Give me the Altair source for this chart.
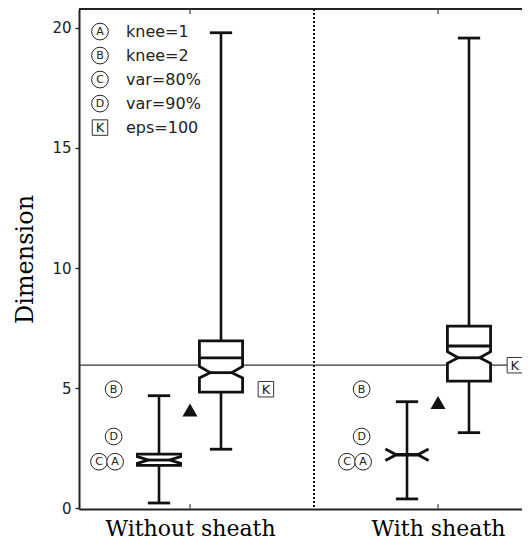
import altair as alt
import pandas as pd

# ---------------- data ----------------
groups = ["Without sheath", "With sheath"]
group_pos = [1, 2]

# left (narrow) box of each group
small_wlo = [0.21, 0.38]
small_whi = [4.68, 4.43]
small_q1 = [1.78, 2.22]
small_q3 = [2.25, 2.22]
small_med = [2.0, 2.22]
small_nlo = [1.86, 1.98]
small_nhi = [2.14, 2.46]

# right (tall) box of each group
big_wlo = [2.45, 3.14]
big_whi = [19.8, 19.58]
big_q1 = [4.83, 5.29]
big_q3 = [6.96, 7.58]
big_inner = [6.26, 6.75]
big_med = [5.64, 6.26]
big_nlo = [5.42, 6.03]
big_nhi = [5.9, 6.51]

triangle_y = [4.08, 4.40]
reference_y = 5.95

marker_letters = ["B", "D", "C", "A"]
marker_y = [4.95, 2.98, 1.93, 1.93]
marker_dx = [-0.308, -0.308, -0.367, -0.302]
k_x = [1.306, 2.31]
k_y = [4.95, 5.95]

legend_letters = ["A", "B", "C", "D"]
legend_labels = ["knee=1", "knee=2", "var=80%", "var=90%"]
legend_y = [19.85, 18.85, 17.85, 16.85]
legend_k_label = "eps=100"
legend_k_y = 15.85

# ---------------- geometry helpers ----------------
W, H = 443, 500
box_dx = 0.125
hw = 0.087
cap = 0.045
xs = alt.Scale(domain=[0.5524, 2.3387], nice=False, zero=False)
ys = alt.Scale(domain=[-0.04, 20.79], nice=False, zero=False)
INK = "#111111"

label_expr = " : ".join(
    f"datum.value == {p} ? '{g}'" for p, g in zip(group_pos, groups)
) + " : ''"

x_axis = alt.Axis(values=group_pos, labelExpr=label_expr, ticks=False, grid=False,
                  title=None, domainWidth=2, domainColor="#222222",
                  labelFont="DejaVu Serif", labelFontSize=22, labelColor="black",
                  labelPadding=9, labelBaseline="top")
y_axis = alt.Axis(values=[0, 5, 10, 15, 20], grid=False, title="Dimension",
                  tickSize=4, tickWidth=1.3, tickColor="#222222",
                  domainWidth=2, domainColor="#222222",
                  labelFont="DejaVu Sans", labelFontSize=15, labelColor="#222222",
                  labelPadding=4, titleFont="DejaVu Serif", titleFontSize=24,
                  titleFontWeight="normal", titleColor="black", titlePadding=14)


def X(f="x"):
    return alt.X(f"{f}:Q", scale=xs, axis=x_axis)


def Y(f="y"):
    return alt.Y(f"{f}:Q", scale=ys, axis=y_axis)


boxes = []
for i, c in enumerate(group_pos):
    boxes.append(dict(cx=c - box_dx, wlo=small_wlo[i], whi=small_whi[i], q1=small_q1[i],
                      q3=small_q3[i], med=small_med[i], nlo=small_nlo[i], nhi=small_nhi[i],
                      inner=None))
    boxes.append(dict(cx=c + box_dx, wlo=big_wlo[i], whi=big_whi[i], q1=big_q1[i],
                      q3=big_q3[i], med=big_med[i], nlo=big_nlo[i], nhi=big_nhi[i],
                      inner=big_inner[i]))

whisk, caps, rects, paths = [], [], [], []
pid = 0
for b in boxes:
    cx = b["cx"]
    whisk.append(dict(x=cx, y=b["wlo"], y2=b["whi"]))
    for v in (b["wlo"], b["whi"]):
        caps.append(dict(x=cx - cap, x2=cx + cap, y=v))
    if b["q3"] > b["q1"]:
        rects.append(dict(x=cx - hw, x2=cx + hw, y=b["q1"], y2=b["q3"]))
        pts = [(-hw, b["q1"]), (hw, b["q1"]), (hw, b["nlo"]), (hw / 2, b["med"]),
               (hw, b["nhi"]), (hw, b["q3"]), (-hw, b["q3"]), (-hw, b["nhi"]),
               (-hw / 2, b["med"]), (-hw, b["nlo"]), (-hw, b["q1"]), (hw, b["q1"])]
        plist = [pts]
    else:
        plist = [[(-hw, b["nhi"]), (-hw / 2, b["med"]), (hw / 2, b["med"]), (hw, b["nhi"])],
                 [(-hw, b["nlo"]), (-hw / 2, b["med"]), (hw / 2, b["med"]), (hw, b["nlo"])]]
    plist.append([(-hw / 2, b["med"]), (hw / 2, b["med"])])
    if b["inner"] is not None:
        plist.append([(-hw, b["inner"]), (hw, b["inner"])])
    for p in plist:
        for k, (dx, yv) in enumerate(p):
            paths.append(dict(pid=pid, o=k, x=cx + dx, y=yv))
        pid += 1

markers = []
for c in group_pos:
    for L, yv, dx in zip(marker_letters, marker_y, marker_dx):
        markers.append(dict(x=c + dx, y=yv, t=L))
k_df = pd.DataFrame(dict(x=k_x, y=k_y, t=["K"] * len(k_x)))
tri_df = pd.DataFrame(dict(x=group_pos, y=triangle_y))

leg_x_sym = 0.637
leg_x_txt = 0.742
leg_c = pd.DataFrame(dict(x=[leg_x_sym] * 4, y=legend_y, t=legend_letters))
leg_t = pd.DataFrame(dict(x=[leg_x_txt] * 5, y=legend_y + [legend_k_y],
                          t=legend_labels + [legend_k_label]))
leg_k = pd.DataFrame(dict(x=[leg_x_sym], y=[legend_k_y], t=["K"]))

# ---------------- layers ----------------
frame_df = pd.DataFrame(dict(y=[reference_y]))

href = alt.Chart(frame_df).mark_rule(color="#333333", strokeWidth=1.3).encode(
    y=Y(), x=alt.value(0), x2=alt.value(W))
vline = alt.Chart(frame_df).mark_rule(color=INK, strokeWidth=2, strokeDash=[2, 2]).encode(
    x=alt.datum(1.5, scale=xs, axis=x_axis), y=alt.value(0), y2=alt.value(H))
top = alt.Chart(frame_df).mark_rule(color="#222222", strokeWidth=2).encode(
    y=alt.value(0), x=alt.value(0), x2=alt.value(W))
tick_df = pd.DataFrame(dict(x=group_pos))
top_ticks = alt.Chart(tick_df).mark_rule(color="#444444", strokeWidth=1.2).encode(
    x=X(), y=alt.value(0), y2=alt.value(5))
bot_ticks = alt.Chart(tick_df).mark_rule(color="#444444", strokeWidth=1.2).encode(
    x=X(), y=alt.value(H), y2=alt.value(H - 5))

whisk_l = alt.Chart(pd.DataFrame(whisk)).mark_rule(color=INK, strokeWidth=2.6).encode(
    x=X(), y=Y(), y2="y2:Q")
caps_l = alt.Chart(pd.DataFrame(caps)).mark_rule(color=INK, strokeWidth=2.8).encode(
    x=X(), x2="x2:Q", y=Y())
rect_l = alt.Chart(pd.DataFrame(rects)).mark_rect(color="white").encode(
    x=X(), x2="x2:Q", y=Y(), y2="y2:Q")
path_l = alt.Chart(pd.DataFrame(paths)).mark_line(color=INK, strokeWidth=2.8,
                                                 strokeJoin="miter").encode(
    x=X(), y=Y(), detail="pid:N", order="o:Q")
tri_l = alt.Chart(tri_df).mark_point(shape="triangle-up", filled=True, color=INK,
                                     size=225, opacity=1).encode(x=X(), y=Y())

mk_df = pd.DataFrame(markers)
circ_l = alt.Chart(mk_df).mark_point(shape="circle", filled=True, fill="white",
                                     stroke="#222222", strokeWidth=1, size=280,
                                     opacity=1).encode(x=X(), y=Y())
circ_t = alt.Chart(mk_df).mark_text(font="DejaVu Sans", fontSize=11, color="#222222",
                                    baseline="middle", dy=0.5).encode(
    x=X(), y=Y(), text="t:N")
ksq_l = alt.Chart(k_df).mark_square(filled=True, fill="white", stroke="#333333",
                                    strokeWidth=1, size=240, opacity=1).encode(x=X(), y=Y())
ksq_t = alt.Chart(k_df).mark_text(font="DejaVu Sans", fontSize=13, color="#222222",
                                  baseline="middle", dy=0.5).encode(x=X(), y=Y(), text="t:N")

legc_l = alt.Chart(leg_c).mark_point(shape="circle", filled=True, fill="white",
                                     stroke="#222222", strokeWidth=1, size=280,
                                     opacity=1).encode(x=X(), y=Y())
legc_t = alt.Chart(leg_c).mark_text(font="DejaVu Sans", fontSize=11, color="#222222",
                                    baseline="middle", dy=0.5).encode(x=X(), y=Y(), text="t:N")
legk_l = alt.Chart(leg_k).mark_square(filled=True, fill="white", stroke="#333333",
                                      strokeWidth=1, size=240, opacity=1).encode(x=X(), y=Y())
legk_t = alt.Chart(leg_k).mark_text(font="DejaVu Sans", fontSize=13, color="#222222",
                                    baseline="middle", dy=0.5).encode(x=X(), y=Y(), text="t:N")
legt_l = alt.Chart(leg_t).mark_text(font="DejaVu Sans", fontSize=16, color="#222222",
                                    align="left", baseline="middle").encode(
    x=X(), y=Y(), text="t:N")

chart = alt.layer(
    href, vline, top, top_ticks, bot_ticks, whisk_l, caps_l, rect_l, path_l, tri_l,
    circ_l, circ_t, ksq_l, ksq_t, legc_l, legc_t, legk_l, legk_t, legt_l
).properties(
    width=W, height=H, autosize=alt.AutoSizeParams(type="none"),
    padding={"left": 71, "top": 1, "right": 0, "bottom": 30},
    background="white"
).configure_view(stroke=None)

chart.save("out.html", embed_options={"renderer": "svg", "actions": False})
